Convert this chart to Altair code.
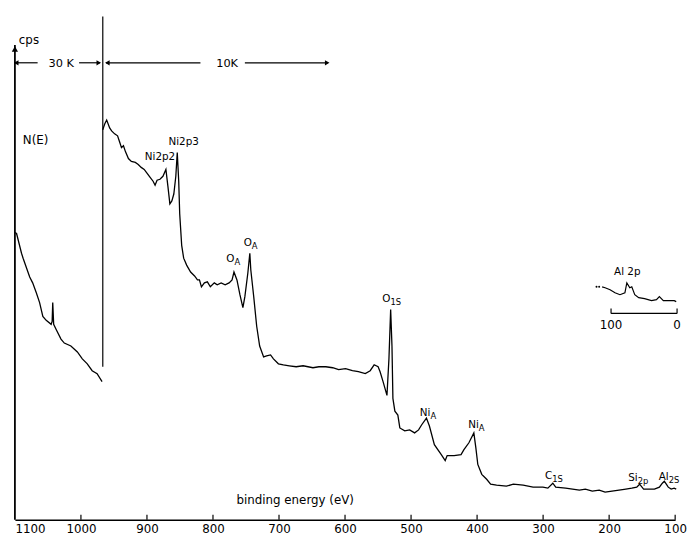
import altair as alt
import pandas as pd

# ---- spectrum, 30K segment (binding energy eV, intensity arb.)
left_ev = [1100.0, 1097.5, 1090.0, 1087.6, 1077.6, 1073.1, 1067.6, 1062.6, 1057.7, 1052.6, 1045.1, 1043.6,
           1042.7, 1041.3, 1037.7, 1030.2, 1025.2, 1015.2, 1005.4, 997.9, 990.4, 983.0, 975.5, 968.0]
left_int = [291, 290, 270, 265, 246, 240, 230, 220, 206, 202, 198, 201,
            220, 198, 193, 183, 179, 176, 170, 163, 158, 151, 148, 140]

# ---- spectrum, 10K segment
right_ev = [967.0, 964.0, 961.0, 956.5, 953.5, 949.0, 944.5, 941.5, 938.6, 935.6,
            932.6, 928.1, 923.6, 917.6, 913.2, 908.7, 904.2, 899.7, 895.2, 890.7,
            887.7, 884.7, 880.3, 875.8, 871.3, 868.3, 865.3, 862.3, 859.3, 856.3,
            854.1, 851.9, 850.4, 847.4, 844.4, 839.9, 833.9, 827.9, 823.5, 820.5,
            817.5, 813.0, 808.5, 804.0, 798.0, 793.6, 787.6, 781.6, 775.6, 771.1,
            768.2, 763.7, 759.2, 754.7, 751.7, 747.2, 744.2, 742.7, 738.3, 733.8,
            729.3, 723.3, 718.8, 712.8, 708.4, 700.9, 693.4, 684.4, 674.0, 663.5,
            648.6, 639.6, 629.1, 618.7, 609.7, 599.2, 588.8, 579.8, 569.3, 561.9,
            555.9, 549.9, 546.9, 542.4, 536.5, 533.5, 530.9, 528.9, 527.5, 524.5,
            520.0, 517.0, 509.6, 502.1, 494.6, 488.6, 484.1, 476.7, 472.2, 464.7,
            454.2, 448.3, 445.3, 434.8, 424.3, 419.9, 412.4, 404.9, 401.9, 398.9,
            392.9, 385.5, 379.5, 370.5, 355.6, 345.1, 330.2, 315.2, 300.3, 292.8,
            285.3, 280.9, 265.9, 255.4, 245.0, 236.0, 225.5, 215.0, 206.1, 195.6,
            185.1, 174.7, 165.7, 158.2, 153.8, 147.8, 138.8, 131.4, 123.9, 119.4,
            116.4, 113.4, 110.5, 106.0, 101.5, 98.4]
right_int = [395, 401, 405, 397, 394, 391, 389, 383, 377, 379,
             373, 366, 363, 362, 360, 357, 355, 351, 347, 343,
             339, 344, 345, 348, 355, 338, 320, 323, 330, 348,
             372, 343, 310, 278, 265, 258, 251, 247, 243, 243,
             236, 240, 241, 236, 240, 238, 240, 238, 240, 243,
             251, 243, 228, 215, 226, 250, 270, 253, 226, 196,
             176, 165, 166, 167, 163, 158, 157, 156, 155, 156,
             154, 155, 155, 154, 152, 153, 151, 150, 148, 151,
             157, 155, 150, 140, 126, 163, 213, 176, 123, 110,
             106, 93, 90, 91, 88, 91, 96, 103, 95, 76,
             66, 60, 65, 65, 66, 71, 78, 88, 73, 56,
             46, 41, 36, 35, 34, 36, 35, 33, 33, 32,
             37, 33, 32, 31, 30, 31, 29, 30, 28, 29,
             30, 31, 32, 33, 36, 31, 31, 31, 33, 37,
             39, 36, 33, 31, 32, 31]

# ---- Al 2p inset (its own 100..0 eV scale)
inset_e = [113.5, 109.0, 101.5, 94.0, 86.5, 79.0, 76.1, 71.6, 68.6, 64.1,
           58.1, 49.2, 38.7, 31.2, 26.8, 20.8, 13.3, 4.3, 1.3]
inset_int = [236, 235, 233, 230, 228, 230, 240, 235, 236, 228,
             225, 224, 222, 223, 226, 222, 222, 222, 221]
inset_dot_e = [122.0, 118.0]
inset_dot_int = [236, 236]
inset_scale_e = [100, 0]
inset_scale_labels = ["100", "0"]
INSET_SHIFT = 97.1          # where the inset sits on the main energy axis
INSET_BAR = 209
INSET_LABEL_Y = 197

tick_values = [1100, 1000, 900, 800, 700, 600, 500, 400, 300, 200, 100]

# peak labels: anchor energy, height, main text, subscript
sub_ev = [767.4, 741.2, 531.2, 470.7, 397.4, 286.1, 156.8, 109.7]
sub_v = [264, 280, 224, 108, 96, 44, 42, 43]
sub_base = ["O", "O", "O", "Ni", "Ni", "C", "Si", "Al"]
sub_sub = ["A", "A", "1S", "A", "A", "1S", "2p", "2S"]
plain_ev = [880.3, 844.4, 172.5]
plain_v = [367, 383, 251]
plain_txt = ["Ni2p2", "Ni2p3", "Al 2p"]

FONT = "DejaVu Sans"
W, H = 669, 510
YMAX = 510

xscale = alt.Scale(domain=[1100, 100], nice=False, zero=False)
yscale = alt.Scale(domain=[0, YMAX], nice=False, zero=False)
xaxis = alt.Axis(values=tick_values, ticks=False, grid=False, domain=True, domainColor="black",
                 domainWidth=1.6, labelFont=FONT, labelFontSize=12, labelFlush=False,
                 labelBound=False, labelOverlap=False,
                 labelAlign=alt.ConditionalAxisLabelAlign(
                     condition={"test": "datum.value == 1100", "value": "left"}, value="center"),
                 labelColor="black", labelPadding=4, title=None, format="d")


def X(f):
    return alt.X(f, type="quantitative", scale=xscale, axis=xaxis)


def Y(f):
    return alt.Y(f, type="quantitative", scale=yscale, axis=None)


spec = pd.DataFrame({
    "ev": left_ev + right_ev,
    "I": left_int + right_int,
    "seg": ["30K"] * len(left_ev) + ["10K"] * len(right_ev),
    "i": list(range(len(left_ev) + len(right_ev))),
})
spectrum = alt.Chart(spec).mark_line(color="black", strokeWidth=1.3).encode(
    x=X("ev"), y=Y("I"), detail="seg:N", order="i:Q")

inset = pd.DataFrame({"ev": [e + INSET_SHIFT for e in inset_e], "I": inset_int})
inset_line = alt.Chart(inset).mark_line(color="black", strokeWidth=1.2).encode(x=X("ev"), y=Y("I"))
inset_dots = alt.Chart(pd.DataFrame({"ev": [e + INSET_SHIFT for e in inset_dot_e], "I": inset_dot_int})).mark_point(
    filled=True, color="black", size=4, opacity=1).encode(x=X("ev"), y=Y("I"))

# vertical rules: y-axis, 30K/10K divider, axis ticks, inset scale ticks
vr = pd.DataFrame({
    "ev": [1100, 966.9] + tick_values[1:] + [e + INSET_SHIFT for e in inset_scale_e],
    "y0": [0, 155] + [0] * (len(tick_values) - 1) + [INSET_BAR] * 2,
    "y1": [481, 510] + [5] * (len(tick_values) - 1) + [INSET_BAR + 5] * 2,
    "w": [1.8, 1.2] + [1.2] * (len(tick_values) - 1) + [1.2] * 2,
})
vrules = alt.Chart(vr).mark_rule(color="black").encode(
    x=X("ev"), y=Y("y0"), y2="y1", strokeWidth=alt.StrokeWidth("w:Q", scale=None))

# horizontal rules: scale arrows and inset bar
hr = pd.DataFrame({
    "e0": [1100.5, 1002.8, 962.0, 751.7, 100 + INSET_SHIFT],
    "e1": [1065.6, 971.0, 819.0, 626.0, 0 + INSET_SHIFT],
    "v": [463, 463, 463, 463, INSET_BAR],
})
hrules = alt.Chart(hr).mark_rule(color="black", strokeWidth=1.2).encode(x=X("e0"), x2="e1", y=Y("v"))

# arrow heads
heads_l = alt.Chart(pd.DataFrame({"ev": [1098.0, 960.0], "v": [463, 463]})).mark_point(
    shape="triangle-left", filled=True, color="black", size=28, opacity=1).encode(x=X("ev"), y=Y("v"))
heads_r = alt.Chart(pd.DataFrame({"ev": [973.0, 627.0], "v": [463, 463]})).mark_point(
    shape="triangle-right", filled=True, color="black", size=28, opacity=1).encode(x=X("ev"), y=Y("v"))
head_up = alt.Chart(pd.DataFrame({"ev": [1100.0], "v": [477]})).mark_point(
    shape="triangle-up", filled=True, color="black", size=40, opacity=1).encode(x=X("ev"), y=Y("v"))


def text_layer(df, align, size, dy=0):
    return alt.Chart(df).mark_text(align=align, baseline="middle", font=FONT, fontSize=size,
                                   color="black", dy=dy).encode(x=X("ev"), y=Y("v"), text="t:N")


base_txt = text_layer(pd.DataFrame({"ev": sub_ev, "v": sub_v, "t": sub_base}), "right", 10.5)
sub_txt = text_layer(pd.DataFrame({"ev": sub_ev, "v": sub_v, "t": sub_sub}), "left", 8.5, dy=3)
plain = text_layer(pd.DataFrame({"ev": plain_ev, "v": plain_v, "t": plain_txt}), "center", 10.5)
left_txt = text_layer(pd.DataFrame({"ev": [1088.0, 1094.0], "v": [385, 486], "t": ["N(E)", "cps"]}), "left", 12)
scale_txt = text_layer(pd.DataFrame({"ev": [1029.7, 778.6], "v": [462, 462], "t": ["30 K", "10K"]}), "center", 11.5)
xtitle = text_layer(pd.DataFrame({"ev": [675.5], "v": [20], "t": ["binding energy  (eV)"]}), "center", 12)
inset_lab = text_layer(pd.DataFrame({"ev": [e + INSET_SHIFT for e in inset_scale_e],
                                     "v": [INSET_LABEL_Y] * 2, "t": inset_scale_labels}), "center", 12)

chart = alt.layer(
    spectrum, inset_line, inset_dots, vrules, hrules, heads_l, heads_r, head_up,
    base_txt, sub_txt, plain, left_txt, scale_txt, xtitle, inset_lab
).properties(
    width=W, height=H,
    autosize=alt.AutoSizeParams(type="none"),
    padding={"left": 7, "top": 5, "right": 12, "bottom": 15},
    background="white",
).configure_view(stroke=None)

chart.save("out.html", embed_options={"renderer": "svg", "actions": False})
